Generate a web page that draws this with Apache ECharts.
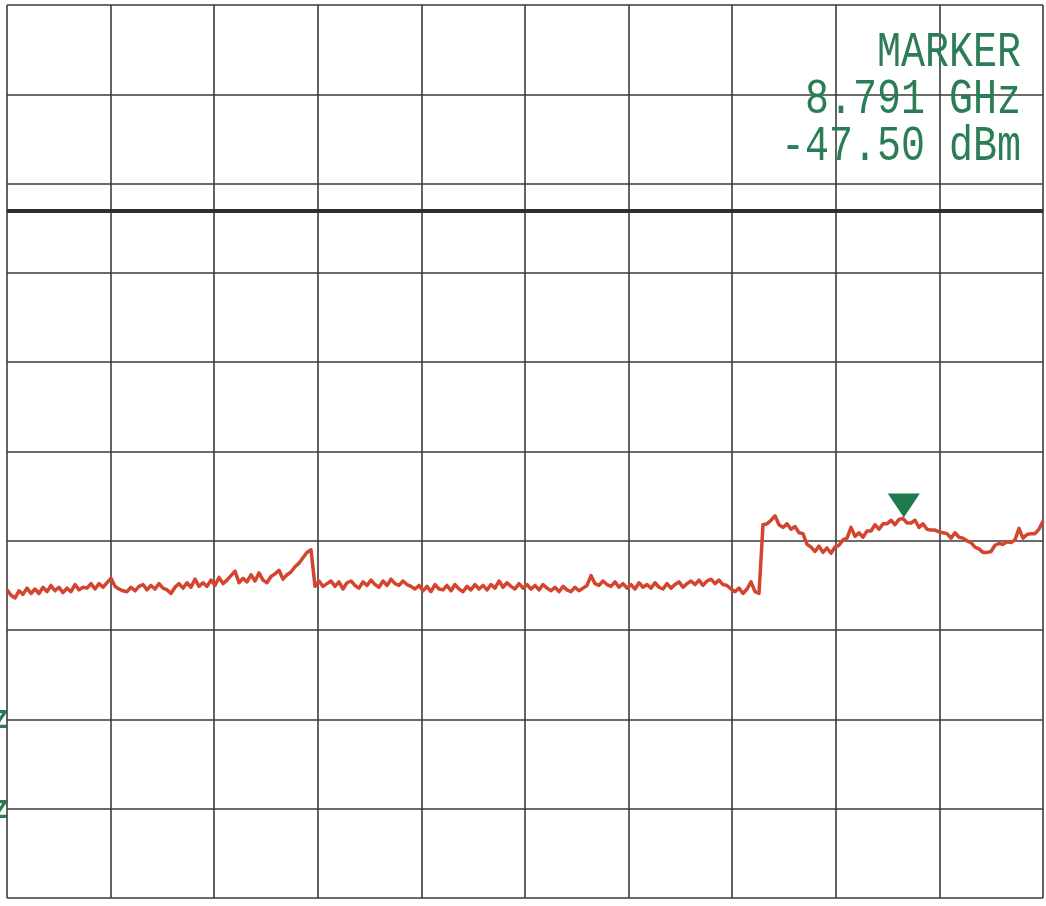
<!DOCTYPE html>
<html>
<head>
<meta charset="utf-8">
<script src="https://cdn.jsdelivr.net/npm/echarts@6/dist/echarts.min.js"></script>
<style>
html,body{margin:0;padding:0;background:#ffffff;}
#chart{width:1046px;height:906px;}
</style>
</head>
<body>
<div id="chart"></div>
<script>
// Sweep settings (GHz) and display settings (dBm)
const startGHz = 1.0;
const stopGHz = 10.0;
const refLevel = 10;      // top of screen, dBm
const bottomLevel = -90;  // bottom of screen, dBm
const dBperDiv = 10;
const displayLine = -13;  // dBm
const markerFreq = 8.791; // GHz
const markerLevel = -47.50; // dBm
const markerText = ["MARKER", "8.791 GHz", "-47.50 dBm"];

// Trace amplitude readings (dBm), evenly spaced sweep points from start to stop
const traceDbm = [
  -55.5,-56.1,-56.4,-55.6,-56.0,-55.3,-55.9,-55.4,-55.9,-55.2,
  -55.7,-55.0,-55.6,-55.2,-55.8,-55.3,-55.7,-54.9,-55.5,-55.2,
  -55.3,-54.8,-55.4,-54.8,-55.2,-54.7,-54.2,-55.1,-55.4,-55.6,
  -55.7,-55.2,-55.6,-55.1,-54.9,-55.5,-55.0,-55.4,-54.8,-55.3,
  -55.5,-55.9,-55.2,-54.8,-55.3,-54.7,-55.2,-54.3,-55.1,-54.7,
  -55.1,-54.4,-55.0,-54.1,-54.8,-54.4,-53.9,-53.4,-54.7,-54.2,
  -54.6,-53.8,-54.5,-53.6,-54.4,-54.7,-54.0,-53.7,-53.3,-54.3,
  -53.8,-53.5,-52.9,-52.5,-51.9,-51.3,-51.0,-55.1,-54.5,-55.1,
  -54.8,-54.5,-55.1,-54.6,-55.4,-54.7,-54.5,-55.0,-55.3,-54.6,
  -55.0,-54.4,-54.9,-55.2,-54.5,-55.0,-54.3,-54.8,-55.0,-54.5,
  -54.9,-55.1,-55.4,-55.0,-55.6,-55.1,-55.7,-54.9,-55.4,-55.5,
  -55.0,-55.6,-54.9,-55.4,-55.7,-55.1,-55.5,-54.9,-55.4,-55.0,
  -55.5,-54.9,-55.3,-54.5,-55.2,-54.7,-55.1,-55.4,-54.8,-55.3,
  -54.9,-55.4,-55.0,-55.5,-54.9,-55.3,-55.6,-55.2,-55.7,-55.1,
  -55.5,-55.7,-55.2,-55.6,-55.3,-55.0,-53.9,-54.8,-55.0,-54.5,
  -54.9,-55.1,-54.6,-55.2,-54.8,-55.3,-54.9,-55.4,-54.7,-55.2,
  -54.9,-55.3,-54.7,-55.2,-55.4,-54.8,-55.3,-54.9,-54.6,-55.2,
  -54.8,-54.5,-54.9,-54.4,-55.0,-54.5,-54.3,-54.8,-54.4,-54.9,
  -55.0,-55.4,-55.7,-55.3,-55.9,-55.4,-54.6,-55.7,-55.9,-48.2,
  -48.1,-47.7,-47.2,-48.2,-48.5,-48.1,-48.7,-48.4,-49.1,-49.2,
  -50.4,-50.7,-51.2,-50.6,-51.3,-50.8,-51.4,-50.7,-50.5,-49.9,
  -49.7,-48.5,-49.5,-49.1,-49.6,-48.9,-48.9,-48.2,-48.7,-48.1,
  -48.1,-47.7,-48.2,-47.6,-47.5,-48.0,-48.0,-47.7,-48.5,-48.1,
  -48.7,-48.8,-48.8,-49.0,-49.1,-49.2,-49.7,-49.1,-49.6,-49.7,
  -50.0,-50.2,-50.7,-50.9,-51.3,-51.3,-51.2,-50.5,-50.3,-50.4,
  -50.1,-50.2,-49.9,-48.6,-49.7,-49.3,-49.2,-49.2,-48.7,-47.8
];

const n = traceDbm.length;
const traceData = traceDbm.map((v, i) => [startGHz + i * (stopGHz - startGHz) / (n - 1), v]);

const gridColor = '#3b3b3b';
const green = '#2b7d56';

const chart = echarts.init(document.getElementById('chart'), null, {renderer: 'canvas'});

const textGraphics = markerText.map((t, k) => ({
  type: 'text',
  x: 1021,
  y: 53 + k * 47,
  scaleX: 0.8,
  z: 100,
  style: {
    text: t,
    fill: green,
    font: '50px "Liberation Mono", "DejaVu Sans Mono", monospace',
    textAlign: 'right',
    textVerticalAlign: 'middle'
  }
}));

chart.setOption({
  animation: false,
  backgroundColor: '#ffffff',
  grid: {left: 7, right: 3, top: 5, bottom: 8, containLabel: false},
  xAxis: [
    {
      type: 'value', min: 0, max: 10, interval: 1,
      axisLine: {show: false}, axisTick: {show: false}, axisLabel: {show: false},
      splitLine: {show: true, lineStyle: {color: gridColor, width: 1.6}}
    },
    {
      type: 'value', min: startGHz, max: stopGHz, show: false,
      splitLine: {show: false}
    }
  ],
  yAxis: {
    type: 'value', min: bottomLevel, max: refLevel, interval: dBperDiv,
    axisLine: {show: false}, axisTick: {show: false}, axisLabel: {show: false},
    splitLine: {show: true, lineStyle: {color: gridColor, width: 1.6}}
  },
  graphic: textGraphics.concat([
    {type: 'text', x: -7, y: 722, style: {text: 'Z', fill: green, font: 'bold 24px "DejaVu Sans Mono", monospace', textVerticalAlign: 'middle'}},
    {type: 'text', x: -7, y: 812, style: {text: 'Z', fill: green, font: 'bold 24px "DejaVu Sans Mono", monospace', textVerticalAlign: 'middle'}}
  ]),
  series: [
    {
      type: 'line',
      xAxisIndex: 1,
      data: traceData,
      showSymbol: false,
      symbol: 'none',
      lineStyle: {color: '#d3452f', width: 3.5, join: 'round'},
      z: 5,
      markLine: {
        silent: true,
        symbol: 'none',
        label: {show: false},
        lineStyle: {color: '#2f2f2f', width: 4, type: 'solid'},
        data: [{yAxis: displayLine}]
      },
      markPoint: {
        silent: true,
        symbol: 'triangle',
        symbolRotate: 180,
        symbolSize: [32, 24],
        symbolOffset: [0, -13],
        itemStyle: {color: '#1f7a4c'},
        label: {show: false},
        data: [{coord: [markerFreq, markerLevel]}]
      }
    }
  ]
});
</script>
</body>
</html>
